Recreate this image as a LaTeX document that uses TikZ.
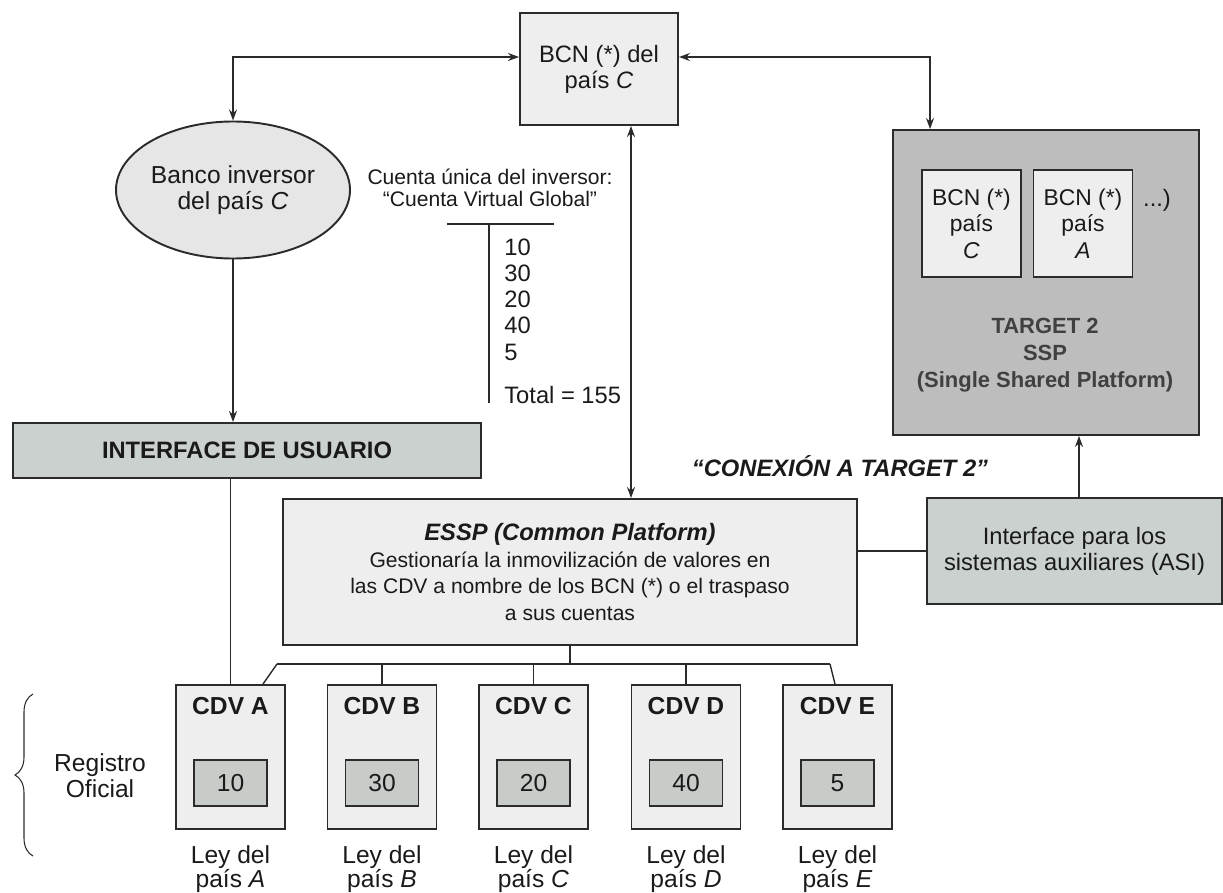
\documentclass[tikz,border=0pt]{standalone}
\usepackage{fontspec}
\setmainfont{Liberation Sans}
\usepackage{xcolor}
\usepackage{tikz}
\usetikzlibrary{shapes.geometric, arrows.meta, positioning, calc, decorations.pathreplacing}
\definecolor{edgegray}{HTML}{2B2B2B}
\definecolor{inkgray}{HTML}{1A1A1A}
\definecolor{boxlight}{HTML}{EEEEEE}
\definecolor{ellgray}{HTML}{E6E6E6}
\definecolor{greengray}{HTML}{CBD1CE}
\definecolor{valuegray}{HTML}{C8CCC9}
\definecolor{targetgray}{HTML}{BDBDBD}
\newcommand{\diafont}{\fontsize{13.5}{14.8}\selectfont}
\newcommand{\smallfont}{\fontsize{12}{15}\selectfont}
\tikzset{
    lightbox/.style={rectangle, draw=edgegray, line width=1.1pt, fill=boxlight, align=center, inner sep=2pt},
    greenbox/.style={rectangle, draw=edgegray, line width=1.1pt, fill=greengray, align=center, inner sep=2pt},
    link/.style={line width=0.8pt, draw=edgegray},
    arrow/.style={link, <->, >={Stealth[length=2.2mm, width=1.6mm]}},
    onearrow/.style={link, ->, >={Stealth[length=2.2mm, width=1.6mm]}}
}

\begin{document}
\begin{tikzpicture}[
    every node/.style={align=center, font=\diafont, text=inkgray},
    cdvbox/.style={lightbox, minimum width=2.18cm, minimum height=2.88cm},
    valbox/.style={rectangle, draw=edgegray, line width=1.1pt, fill=valuegray, minimum width=1.46cm, minimum height=0.92cm},
    innerbcn/.style={lightbox, minimum width=1.98cm, minimum height=2.14cm}
]
    \useasboundingbox (0,0) rectangle (24.46,-17.84);

    % top row
    \node[lightbox, minimum width=3.16cm, minimum height=2.24cm] (bcn) at (11.98,-1.38) {BCN (*) del\\país \textit{C}};
    \node[ellipse, draw=edgegray, line width=1.1pt, fill=ellgray, minimum width=4.68cm, minimum height=2.74cm, inner sep=0pt, font=\fontsize{14}{14.4}\selectfont] (banco) at (4.66,-3.80) {Banco inversor\\del país \textit{C}};

    % cuenta virtual global
    \node[font=\fontsize{12}{12.5}\selectfont] (cuenta) at (9.80,-3.76) {Cuenta única del inversor:\\“Cuenta Virtual Global”};
    \draw[link] (8.94,-4.48) -- (11.08,-4.48);
    \draw[link] (9.78,-4.48) -- (9.78,-8.06);
    \foreach \v [count=\i] in {10,30,20,40,5}
        \node[anchor=west, inner sep=0pt] (num\i) at (10.08,{-4.94-0.525*(\i-1)}) {\v};
    \node[anchor=west, inner sep=0pt] (total) at (10.08,-7.90) {Total = 155};

    % target 2
    \node[rectangle, draw=edgegray, line width=1.1pt, fill=targetgray, minimum width=6.12cm, minimum height=6.10cm] (target) at (20.92,-5.65) {};
    \node[innerbcn, font=\fontsize{13}{15}\selectfont] (bcnC) at (19.43,-4.47) {BCN (*)\\país\\\textit{C}};
    \node[innerbcn, font=\fontsize{13}{15}\selectfont] (bcnA) at (21.66,-4.47) {BCN (*)\\país\\\textit{A}};
    \node (dots) at (23.14,-4.00) {...)};
    \node[font=\fontsize{12.5}{15.5}\selectfont\bfseries, text=black!75] (tgtext) at (20.90,-7.10) {TARGET 2\\SSP\\(Single Shared Platform)};

    % middle row
    \node[greenbox, minimum width=9.36cm, minimum height=1.10cm] (usuario) at (4.94,-9.01) {\textbf{INTERFACE DE USUARIO}};
    \node[font=\diafont\bfseries\itshape] (conexion) at (16.80,-9.32) {“CONEXIÓN A TARGET 2”};
    \node[lightbox, minimum width=11.48cm, minimum height=2.92cm, font=\smallfont] (essp) at (11.40,-11.44) {{\fontsize{13.5}{15}\selectfont\bfseries\itshape ESSP (Common Platform)}\\Gestionaría la inmovilización de valores en\\las CDV a nombre de los BCN (*) o el traspaso\\a sus cuentas};
    \node[greenbox, minimum width=5.90cm, minimum height=2.12cm] (asi) at (21.49,-11.02) {Interface para los\\sistemas auxiliares (ASI)};

    % registro oficial
    \foreach \c/\v/\x in {A/10/4.61, B/30/7.64, C/20/10.67, D/40/13.72, E/5/16.75} {
        \node[cdvbox] (cdv\c) at (\x,-15.14) {};
        \node[font=\fontsize{14}{15}\selectfont\bfseries] (tit\c) at (\x,-14.12) {CDV \c};
        \node[valbox, font=\fontsize{14}{15}\selectfont] (val\c) at (\x,-15.66) {\v};
        \node[font=\fontsize{14}{13.5}\selectfont] (ley\c) at (\x,-17.38) {Ley del\\país \textit{\c}};
    }
    \node[font=\fontsize{14}{14.7}\selectfont] (registro) at (2.00,-15.52) {Registro\\Oficial};
    \draw[line width=0.6pt, draw=edgegray, decorate, decoration={brace, amplitude=0.36cm}] (0.66,-17.12) -- (0.66,-13.88);

    % connectors
    \draw[arrow] (banco.north) |- ([yshift=0.24cm]bcn.west);
    \draw[arrow] ([yshift=0.24cm]bcn.east) -| ([xshift=0.76cm]target.north west);
    \draw[arrow] ([xshift=0.64cm]bcn.south) -- ([xshift=0.64cm]bcn.south |- essp.north);
    \draw[onearrow] (banco.south) -- (banco.south |- usuario.north);
    \draw[onearrow] ([xshift=0.09cm]asi.north) -- ([xshift=0.09cm]asi.north |- target.south);
    \draw[link] (asi.west -| essp.east) -- (asi.west);
    \draw[link] (cdvA.north |- usuario.south) -- (cdvA.north);

    % bus to the CDV
    \coordinate (busL) at (5.54,-13.28);
    \coordinate (busR) at (16.60,-13.28);
    \draw[link] (busL) -- (busR);
    \draw[link] (essp.south) -- (essp.south |- busL);
    \draw[link] (busL) -- ([xshift=0.65cm]cdvA.north);
    \draw[link] (busR) -- ([xshift=-0.05cm]cdvE.north);
    \foreach \c in {B,C,D}
        \draw[link] (cdv\c.north) -- (cdv\c.north |- busL);
\end{tikzpicture}
\end{document}
